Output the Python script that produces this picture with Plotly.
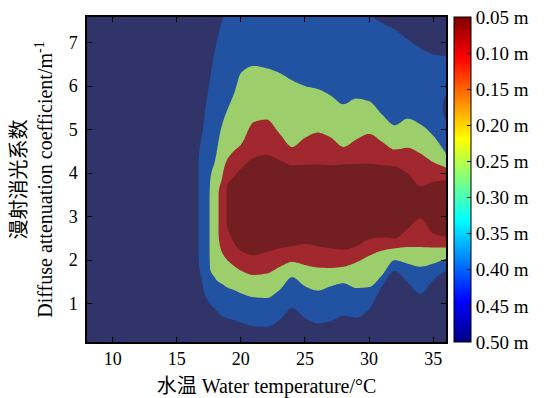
import numpy as np
import plotly.graph_objects as go

# Water temperature columns (°C) at which the contour crossings were read
TEMPS = [8, 16, 16.5, 17, 17.5, 18, 18.5, 19, 19.5, 20, 21, 22, 23, 24, 25, 26,
         27, 28, 29, 30, 31, 32, 33, 34, 35, 36]
N = None
# Diffuse attenuation coefficient (m^-1) where the depth crosses each level,
# read from the picture, below the core (LOW) and above it (HIGH)
K_040_LOW = [N, N, N, 1.46, 1.04, 0.87, 0.72, 0.66, 0.62, 0.57, 0.48, 0.47, 0.62, 0.90,
             0.67, 0.55, 0.60, 0.72, 0.68, 0.88, 1.40, 1.75, 1.50, 1.23, 1.54, 1.77]
K_030_LOW = [N, N, N, N, N, 1.58, 1.46, 1.36, 1.31, 1.24, 1.15, 1.13, 1.31, 1.61,
             1.40, 1.30, 1.40, 1.47, 1.36, 1.38, 1.65, 2.00, 1.92, 1.85, 1.92, 2.03]
K_020_LOW = [N, N, N, N, N, N, 2.20, 1.98, 1.86, 1.76, 1.66, 1.69, 1.84, 1.96,
             1.89, 1.83, 1.82, 1.85, 1.95, 2.10, 2.22, 2.27, 2.30, 2.30, 2.29, 2.29]
K_010_LOW = [N, N, N, N, N, N, N, 2.70, 2.38, 2.21, 2.11, 2.19, 2.27, 2.32,
             2.37, 2.32, 2.27, 2.24, 2.32, 2.48, 2.52, 2.50, 2.72, 2.96, 2.61, 2.53]
CORE_LOW = [1.0, 2.2, 2.15, 2.0, 1.8, 2.4, 2.7, 2.9, 2.9, 2.8, 2.8, 2.8, 2.8, 2.8,
            2.8, 2.8, 2.8, 2.8, 2.8, 2.8, 2.8, 2.8, 2.9, 3.1, 3.0, 3.0]
CORE_HIGH = [6.0, 4.0, 4.07, 4.2, 3.4, 3.7, 3.5, 3.6, 3.5, 3.6, 3.6, 3.6, 3.6, 3.6,
             3.6, 3.6, 3.6, 3.6, 3.6, 3.6, 3.6, 3.6, 3.6, 3.5, 3.4, 3.4]
DEPTH_CORE = [0.50, 0.47, 0.42, 0.37, 0.305, 0.265, 0.14, 0.09, 0.06, 0.05, 0.05, 0.05,
              0.05, 0.05, 0.05, 0.05, 0.05, 0.05, 0.05, 0.05, 0.05, 0.05, 0.05, 0.07,
              0.06, 0.06]
K_010_HIGH = [N, N, N, N, N, N, N, 3.78, 3.93, 4.10, 4.35, 4.42, 4.30, 4.18,
              4.19, 4.20, 4.18, 4.20, 4.21, 4.22, 4.18, 4.15, 4.00, 3.70, 3.80, 3.84]
K_020_HIGH = [N, N, N, N, N, N, 3.84, 4.35, 4.52, 4.65, 5.17, 5.23, 4.91, 4.60,
              4.81, 4.93, 4.82, 4.60, 4.77, 4.90, 4.72, 4.54, 4.58, 4.45, 4.25, 4.13]
K_030_HIGH = [N, N, N, N, N, 4.30, 5.07, 5.49, 5.85, 6.30, 6.46, 6.41, 6.30, 6.13,
              6.00, 5.93, 5.78, 5.58, 5.71, 5.65, 5.35, 5.10, 5.25, 5.12, 4.86, 4.45]
# (values above 7.6 lie beyond the top of the frame)
K_040_HIGH = [N, N, N, 4.91, 6.00, 6.85, 7.46, 7.90, 8.10, 8.30, 8.50, 8.50, 8.50, 8.50,
              8.50, 8.50, 8.50, 8.50, 8.00, 7.65, 7.45, 7.30, 7.07, 6.87, 6.73, 6.68]
DEPTH_OUTER = 0.50          # depth far outside the bands
K_BOTTOM, K_TOP = 0.0, 9.0  # extent of the depth table
# small deep pocket at the right edge
POCKET_TEMPS = [35.6, 36.0]
POCKET_PEAK = [0.385, 0.425]
POCKET_K = [5.10, 5.53, 5.95]
POCKET_EDGE = 0.385

LEVELS = [0.1, 0.2, 0.3, 0.4]
CB_CM = [5, 10, 15, 20, 25, 30, 35, 40, 45, 50]          # colour-bar ticks, cm
CB_LABELS = ["%.2f m" % (v / 100) for v in CB_CM]


# ---- build the depth table the contour trace needs ----
def pchip(xk, yk, xq):
    """Monotone cubic (Fritsch-Carlson) through the given knots."""
    xk = np.asarray(xk, float); yk = np.asarray(yk, float); xq = np.asarray(xq, float)
    h = np.diff(xk); d = np.diff(yk) / h
    n = len(xk)
    m = np.zeros(n)
    m[0], m[-1] = d[0], d[-1]
    for k in range(1, n - 1):
        if d[k - 1] * d[k] > 0:
            w1 = 2 * h[k] + h[k - 1]; w2 = h[k] + 2 * h[k - 1]
            m[k] = (w1 + w2) / (w1 / d[k - 1] + w2 / d[k])
    if n > 2:
        if d[0] * m[1] <= 0:
            m[0] = 0.0
        if d[-1] * m[-2] <= 0:
            m[-1] = 0.0
    i = np.clip(np.searchsorted(xk, xq, side="right") - 1, 0, n - 2)
    t = (xq - xk[i]) / h[i]
    t2, t3 = t * t, t * t * t
    return ((2 * t3 - 3 * t2 + 1) * yk[i] + (t3 - 2 * t2 + t) * h[i] * m[i]
            + (-2 * t3 + 3 * t2) * yk[i + 1] + (t3 - t2) * h[i] * m[i + 1])


K_GRID = np.round(np.arange(K_BOTTOM, K_TOP + 1e-9, 0.05), 3)
SPLIT = TEMPS.index(19)
T_RIGHT = TEMPS[SPLIT:]


def profile(ks, ds):
    ks = list(ks)
    for j in range(1, len(ks)):
        if ks[j] <= ks[j - 1] + 0.005:
            ks[j] = ks[j - 1] + 0.005
    return pchip(ks, ds, K_GRID)


def column_at(i):
    """Depth profile at one of the read temperatures."""
    ks, ds = [K_BOTTOM], [DEPTH_OUTER]
    for arr, lev in ((K_040_LOW, 0.4), (K_030_LOW, 0.3), (K_020_LOW, 0.2), (K_010_LOW, 0.1)):
        if arr[i] is not None:
            ks.append(arr[i]); ds.append(lev)
    ks += [CORE_LOW[i], CORE_HIGH[i]]
    ds += [DEPTH_CORE[i], DEPTH_CORE[i]]
    for arr, lev in ((K_010_HIGH, 0.1), (K_020_HIGH, 0.2), (K_030_HIGH, 0.3)):
        if arr[i] is not None:
            ks.append(arr[i]); ds.append(lev)
    if TEMPS[i] >= POCKET_TEMPS[0]:
        ks += POCKET_K
        ds += [POCKET_EDGE, float(np.interp(TEMPS[i], POCKET_TEMPS, POCKET_PEAK)), POCKET_EDGE]
    if K_040_HIGH[i] is not None:
        ks.append(K_040_HIGH[i]); ds.append(0.4)
    ks.append(K_TOP); ds.append(DEPTH_OUTER)
    return profile(ks, ds)


def column_between(x):
    """Depth profile between read temperatures >= 19 °C (crossings follow x smoothly)."""
    def kv(arr):
        return float(pchip(T_RIGHT, arr[SPLIT:], [x])[0])
    dc = kv(DEPTH_CORE)
    ks = [K_BOTTOM, kv(K_040_LOW), kv(K_030_LOW), kv(K_020_LOW), kv(K_010_LOW),
          kv(CORE_LOW), kv(CORE_HIGH), kv(K_010_HIGH), kv(K_020_HIGH), kv(K_030_HIGH)]
    ds = [DEPTH_OUTER, 0.4, 0.3, 0.2, 0.1, dc, dc, 0.1, 0.2, 0.3]
    if x >= POCKET_TEMPS[0]:
        ks += POCKET_K
        ds += [POCKET_EDGE, float(np.interp(x, POCKET_TEMPS, POCKET_PEAK)), POCKET_EDGE]
    ks += [kv(K_040_HIGH), K_TOP]
    ds += [0.4, DEPTH_OUTER]
    return profile(ks, ds)


Z_READ = np.array([column_at(i) for i in range(len(TEMPS))])      # (temps, k)
X_FINE = np.round(np.arange(TEMPS[0], TEMPS[-1] + 1e-9, 0.1), 2)
X_LEFT = X_FINE[X_FINE < TEMPS[SPLIT]]
X_RIGHT = X_FINE[X_FINE >= TEMPS[SPLIT]]
Z_LEFT = np.array([pchip(TEMPS, Z_READ[:, j], X_LEFT) for j in range(len(K_GRID))])
Z_RIGHT = np.array([column_between(x) for x in X_RIGHT]).T
Z = np.round(np.hstack([Z_LEFT, Z_RIGHT]), 4)

FILL = ["rgb(115,30,33)", "rgb(161,40,46)", "rgb(156,206,108)", "rgb(34,83,163)", "rgb(48,52,104)"]
edges = [0, 0.125, 0.375, 0.625, 0.875, 1]
stepped = []
for j, c in enumerate(FILL):
    stepped.append([edges[j], c])
    stepped.append([edges[j + 1], c])

JET = [[0, "rgb(0,0,132)"], [0.125, "rgb(0,0,255)"], [0.375, "rgb(0,255,255)"],
       [0.625, "rgb(255,255,0)"], [0.875, "rgb(255,0,0)"], [1, "rgb(128,0,0)"]]

FONT = "Liberation Serif, Times New Roman, Noto Sans CJK SC, serif"

fig = go.Figure()
fig.add_trace(go.Contour(
    x=X_FINE, y=K_GRID, z=Z,
    autocontour=False,
    contours=dict(start=LEVELS[0], end=LEVELS[-1], size=0.1, coloring="fill", showlines=False),
    colorscale=stepped, showscale=False,
    line=dict(width=0, smoothing=1.0),
    hoverinfo="skip",
))
# colour bar (0.05 m at the top, 0.50 m at the bottom)
fig.add_trace(go.Scatter(
    x=[TEMPS[0], TEMPS[0]], y=[K_BOTTOM, K_BOTTOM], mode="markers",
    marker=dict(size=1, opacity=0, color=[-CB_CM[-1], -CB_CM[0]],
                colorscale=JET, cmin=-CB_CM[-1], cmax=-CB_CM[0], showscale=True,
                colorbar=dict(x=1.022, xanchor="left", xpad=0, ypad=0, y=0.5, yanchor="middle",
                              len=1, lenmode="fraction", thickness=17, thicknessmode="pixels",
                              outlinecolor="black", outlinewidth=1,
                              tickvals=[-v for v in CB_CM], ticktext=CB_LABELS,
                              ticks="inside", ticklen=4, tickcolor="black",
                              ticklabeloverflow="allow",
                              tickfont=dict(family=FONT, size=19, color="black"))),
    hoverinfo="skip", showlegend=False,
))

axis_common = dict(showline=True, linecolor="black", linewidth=1.5, mirror="ticks",
                   ticks="inside", ticklen=5, tickcolor="black", tickwidth=1,
                   showgrid=False, zeroline=False, automargin=False,
                   tickfont=dict(family=FONT, size=18, color="black"))
# the page body adds an 8 px offset, so the figure is 8 px smaller than the window
fig.update_layout(
    width=537, height=390,
    margin=dict(l=79, r=99, t=9, b=56, autoexpand=False),
    paper_bgcolor="white", plot_bgcolor="white",
    font=dict(family=FONT, color="black"),
    xaxis=dict(range=[8, 36], tickvals=[10, 15, 20, 25, 30, 35],
               title=dict(text="水温 Water temperature/°C", font=dict(family=FONT, size=20)),
               **axis_common),
    yaxis=dict(range=[0.12, 7.585], tickvals=[1, 2, 3, 4, 5, 6, 7], ticklabelstandoff=4,
               title=dict(text="漫射消光系数<br>Diffuse attenuation coefficient/m<sup>-1</sup>",
                          font=dict(family=FONT, size=20), standoff=23),
               **axis_common),
)
fig.write_html("out.html")
